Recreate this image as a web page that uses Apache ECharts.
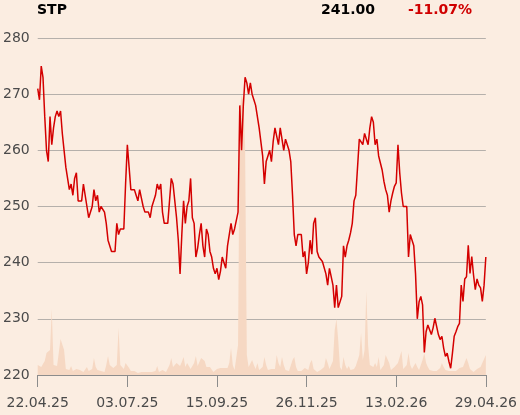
<!DOCTYPE html>
<html>
<head>
<meta charset="utf-8">
<script src="https://cdn.jsdelivr.net/npm/echarts@6/dist/echarts.min.js"></script>
<style>
html,body{margin:0;padding:0;background:#fbede1;}
#chart{width:520px;height:415px;}
</style>
</head>
<body>
<div id="chart"></div>
<script>
const ticker = 'STP';
const tickLabels = ['22.04.25','03.07.25','15.09.25','26.11.25','13.02.26','29.04.26'];
const prices = [
271,269,275,273,266,260,258,266,261,264,
266,267,266,267,263,260,257,255,253,254,
252,255,256,251,251,251,254,254,250,248,
248,250,253,251,252,249,250,250,249,247,
244,244,242,242,242,247,245,246,246,246,
254,261,257,253,253,253,252,251,253,251.5,
250,249,249,249,248,250,250,252,254,253,
254,249,247,247,247,247,255,254,251,248,
244,238,245,251,247,250,251,255,248,247,
241,242.6,245,247,243,241,246,245,242,241,
239,238,239,237,238.5,241,240,239,243,243,
247,245,246,246,249,268,260,268,273,272,
270,272,270,269,268,268,264,264,259,254,
258,259,260,258,261.6,264,264,261,264,264,
260,262,261,260,258,252,245,243,245,245,
245,241,242,238,240,244,241.5,247,248,242,
241,241,240.2,240,238,236,239,237.5,236,232,
236,232,232,234,243,241,243,244,245.3,247,
251,252,252,262,262,261,263,263,261,264,
266,265,261,262,259,259,256.5,254.5,253,252,
249,251,252.4,253.6,254.2,261,256,252.4,250,250,
250,241,245,245,243,238,230,233,234,232.5,
224,227.7,228.9,229,227.2,228.4,230.1,230,227.2,226.3,
226.9,224.8,223.3,223.9,222.4,221.2,223.9,226.9,227.7,228.6,
229.2,236,233.1,237.1,237.5,243.1,238.1,241.1,237.8,235.2,
237.1,236,235.5,233.1,236,241
];
const volume = [
10,9,8,10,14,22,20,25,66,10,
8,9,10,36,34,25,6,4,5,9,
4,3,6,7,5,4,3,5,8,4,
3,6,17,8,5,3,4,2,3,10,
19,10,9,7,6,10,47,10,9,6,
12,11,7,4,3,4,3,2,4,3,
2,3,4,3,2,3,2,4,9,3,
2,5,7,3,5,10,17,8,7,12,
14,9,13,18,8,12,10,6,8,12,
19,9,7,17,19,14,8,9,8,6,
3,5,6,8,7,8,7,6,7,12,
27,10,5,5,30,265,280,275,230,20,
8,10,15,10,6,12,5,4,8,18,
10,5,4,6,4,6,20,12,8,18,
10,5,3,4,6,15,18,8,4,3,
4,5,7,8,5,12,15,6,4,3,
4,5,4,8,17,12,6,10,14,45,
56,35,8,5,18,10,6,9,5,4,
6,9,8,20,42,15,25,84,30,10,
12,8,12,8,18,5,6,10,20,22,
12,5,3,8,6,12,18,24,6,4,
10,22,10,6,8,12,8,5,4,15,
22,12,8,5,3,4,3,4,5,7,
12,8,5,7,4,3,4,5,4,6,
7,6,8,10,17,12,6,4,3,5,
6,4,8,12,16,20
];
const yMin = 220, yMax = 280, yStep = 10;

const categories = prices.map((_, i) => i);
const step = (prices.length - 1) / (tickLabels.length - 1);
const last = prices[prices.length - 1];
const changePct = (last / prices[0] - 1) * 100;
const changeText = (changePct >= 0 ? '+' : '') + changePct.toFixed(2) + '%';

const chart = echarts.init(document.getElementById('chart'), null, {renderer: 'canvas'});
const font = 'DejaVu Sans';
chart.setOption({
  backgroundColor: '#fbede1',
  animation: false,
  textStyle: {fontFamily: font},
  grid: {left: 37, right: 34, top: 38, bottom: 40},
  graphic: [
    {type: 'text', left: 37, top: 3, style: {text: ticker, font: 'bold 14px "DejaVu Sans"', fill: '#000'}},
    {type: 'text', right: 145, top: 3, style: {text: last.toFixed(2), font: 'bold 14px "DejaVu Sans"', fill: '#000', textAlign: 'right'}},
    {type: 'text', right: 48, top: 3, style: {text: changeText, font: 'bold 14px "DejaVu Sans"', fill: '#d00000', textAlign: 'right'}}
  ],
  xAxis: {
    type: 'category',
    data: categories,
    boundaryGap: false,
    axisLine: {show: true, lineStyle: {color: '#8c8c8c', width: 1}},
    axisTick: {show: true, interval: (i) => Math.abs(i / step - Math.round(i / step)) < 1e-6, length: 12, lineStyle: {color: '#8c8c8c'}},
    axisLabel: {
      interval: (i) => Math.abs(i / step - Math.round(i / step)) < 1e-6,
      formatter: (v, i) => tickLabels[Math.round(i / step)],
      color: '#4a4a4a', fontSize: 14, fontFamily: font, margin: 21
    },
    splitLine: {show: false}
  },
  yAxis: [
    {
      type: 'value', min: yMin, max: yMax, interval: yStep,
      axisLine: {show: false}, axisTick: {show: false},
      axisLabel: {color: '#4a4a4a', fontSize: 14, fontFamily: font, margin: 8},
      splitLine: {lineStyle: {color: '#b5b0ab', width: 1}}
    },
    {type: 'value', min: 0, max: 337, show: false, splitLine: {show: false}}
  ],
  series: [
    {
      type: 'line', yAxisIndex: 1, data: volume, symbol: 'none',
      lineStyle: {width: 0}, areaStyle: {color: '#f6d8c3', opacity: 1}, z: 1
    },
    {
      type: 'line', yAxisIndex: 0, data: prices, symbol: 'none',
      lineStyle: {color: '#d40000', width: 1.5}, z: 3
    }
  ]
});
</script>
</body>
</html>
